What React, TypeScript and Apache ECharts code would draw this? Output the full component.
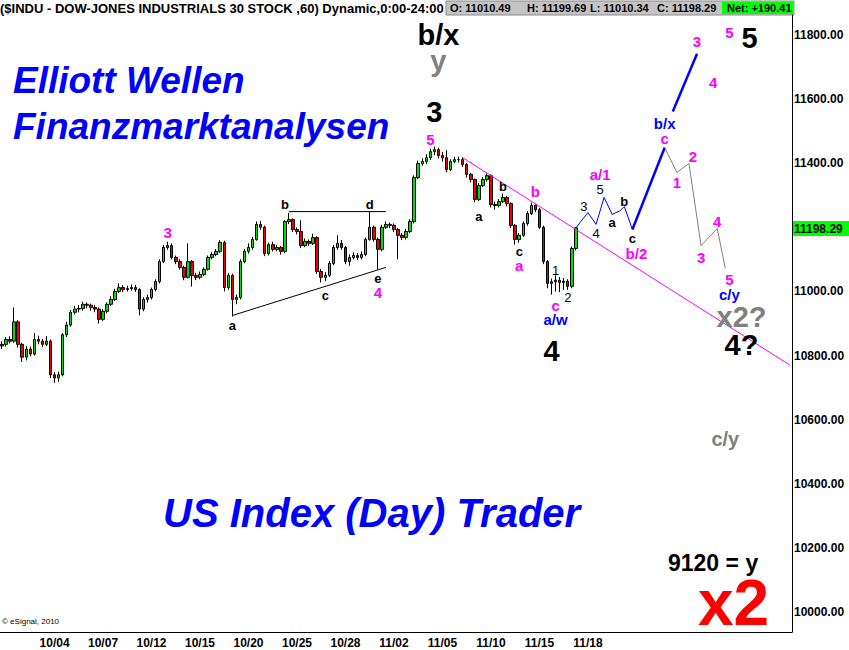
import React, { useEffect, useRef } from "react";
import * as echarts from "echarts";

// ---------- DATA ----------
const tradingDays = [
  "09/29", "09/30", "10/01", "10/04", "10/05", "10/06", "10/07", "10/08", "10/11", "10/12",
  "10/13", "10/14", "10/15", "10/18", "10/19", "10/20", "10/21", "10/22", "10/25", "10/26",
  "10/27", "10/28", "10/29", "11/01", "11/02", "11/03", "11/04", "11/05", "11/08", "11/09",
  "11/10", "11/11", "11/12", "11/15", "11/16", "11/17", "11/18", "11/19", "11/22", "11/23",
  "11/24", "11/26", "11/29", "11/30", "12/01", "12/02", "12/03", "12/06", "12/07",
];
const barsPerDay = 4;
const tickDays = ["10/04", "10/07", "10/12", "10/15", "10/20", "10/25", "10/28", "11/02", "11/05", "11/10", "11/15", "11/18"];
// 11200.00 is hidden behind the last-price tag in the reference
const yTicks = [10000, 10200, 10400, 10600, 10800, 11000, 11400, 11600, 11800];

const firstOpen = 10830;
const closes = [
  10835, 10850, 10845, 10905, 10835, 10795, 10820, 10805, 10850, 10845,
  10835, 10845, 10740, 10730, 10740, 10865, 10895, 10935, 10945, 10947,
  10960, 10957, 10950, 10945, 10913, 10938, 10960, 10975, 11000, 11012,
  11006, 11009, 11012, 11006, 10945, 10975, 10981, 11006, 11031, 11093,
  11137, 11143, 11106, 11093, 11075, 11044, 11093, 11050, 11044, 11053,
  11069, 11106, 11115, 11125, 11153, 11012, 11050, 10975, 10981, 11093,
  11125, 11137, 11162, 11209, 11200, 11118, 11146, 11131, 11137, 11125,
  11218, 11224, 11193, 11187, 11143, 11156, 11150, 11168, 11062, 11044,
  11050, 11087, 11137, 11150, 11137, 11093, 11106, 11112, 11106, 11115,
  11162, 11200, 11162, 11131, 11200, 11209, 11206, 11193, 11175, 11168,
  11187, 11218, 11355, 11399, 11405, 11417, 11436, 11442, 11424, 11417,
  11380, 11405, 11411, 11411, 11396, 11365, 11349, 11287, 11330, 11349,
  11361, 11271, 11268, 11280, 11293, 11274, 11206, 11162, 11175, 11212,
  11243, 11268, 11255, 11200, 11093, 11025, 11030, 11035, 11028, 11032,
  11016, 11134, 11198.29,
];
const highs = [
  10845, 10858, 10860, 10950, 10910, 10840, 10830, 10828, 10870, 10862,
  10852, 10860, 10850, 10748, 10750, 10870, 10905, 10942, 10955, 10958,
  10968, 10966, 10962, 10958, 10950, 10945, 10966, 10985, 11008, 11025,
  11020, 11018, 11022, 11020, 11010, 10982, 10990, 11012, 11038, 11100,
  11145, 11155, 11150, 11112, 11100, 11080, 11150, 11098, 11058, 11062,
  11075, 11112, 11122, 11132, 11160, 11158, 11058, 11055, 10990, 11100,
  11132, 11150, 11170, 11218, 11220, 11205, 11152, 11155, 11145, 11142,
  11222, 11245, 11228, 11200, 11222, 11165, 11162, 11180, 11172, 11070,
  11060, 11095, 11145, 11175, 11160, 11142, 11115, 11122, 11120, 11125,
  11168, 11248, 11205, 11168, 11208, 11218, 11215, 11212, 11198, 11182,
  11195, 11225, 11362, 11408, 11415, 11428, 11445, 11452, 11448, 11435,
  11440, 11412, 11420, 11420, 11418, 11400, 11370, 11352, 11338, 11356,
  11368, 11365, 11280, 11288, 11305, 11298, 11278, 11210, 11182, 11218,
  11250, 11277, 11272, 11260, 11205, 11098, 11040, 11050, 11045, 11042,
  11038, 11140, 11199.69,
];
const lows = [
  10820, 10828, 10838, 10840, 10825, 10780, 10785, 10798, 10800, 10835,
  10826, 10830, 10730, 10715, 10718, 10735, 10858, 10890, 10928, 10935,
  10940, 10948, 10940, 10935, 10900, 10908, 10932, 10955, 10970, 10995,
  10998, 11000, 11002, 10998, 10925, 10938, 10965, 10975, 11000, 11025,
  11088, 11130, 11100, 11085, 11068, 11035, 11040, 11015, 11035, 11038,
  11048, 11065, 11100, 11110, 11120, 11000, 11005, 10922, 10960, 10975,
  11088, 11118, 11130, 11158, 11192, 11110, 11112, 11125, 11125, 11115,
  11120, 11210, 11185, 11178, 11135, 11138, 11142, 11145, 11055, 11028,
  11032, 11045, 11082, 11130, 11130, 11085, 11080, 11100, 11098, 11100,
  11110, 11158, 11155, 11068, 11125, 11195, 11198, 11185, 11100, 11160,
  11162, 11182, 11212, 11350, 11392, 11398, 11410, 11425, 11415, 11405,
  11372, 11375, 11400, 11402, 11388, 11355, 11340, 11278, 11282, 11325,
  11342, 11262, 11255, 11262, 11275, 11265, 11198, 11146, 11152, 11170,
  11205, 11238, 11248, 11195, 11085, 11010, 10990, 11000, 10998, 11005,
  11005, 11010, 11128,
];

// annotation lines: [bar index, price]
const triangleTop = [[70.6, 11249], [94.8, 11249]];
const triangleBottom = [[57.0, 10925], [94.8, 11075]];
const pinkTrend = [[114.3, 11417], [195.1, 10770]];
const blueSmall = [[142, 11198], [144.7, 11246], [146.9, 11209], [149.1, 11293], [151.1, 11240], [152.8, 11252], [154.3, 11265], [155.8, 11193]];
const blueBig1 = [[155.8, 11193], [163.7, 11449]];
const blueBig2 = [[166.2, 11561], [171.8, 11741]];
const greyPath = [[163.7, 11449], [166.7, 11371], [169.9, 11399], [173.1, 11143], [176.5, 11196], [179.3, 11072]];

// wave labels: [bar index, price, text, style]
const waveLabels: [number, number, string, string][] = [
  [41.0, 11184, "3", "pink"],
  [106.4, 11473, "5", "pink"],
  [92.6, 10997, "4", "pink"],
  [57.3, 10894, "a", "black"],
  [70.4, 11271, "b", "black"],
  [79.7, 10988, "c", "black"],
  [90.6, 11271, "d", "black"],
  [92.8, 11040, "e", "black"],
  [118.3, 11234, "a", "black"],
  [124.2, 11327, "b", "black"],
  [127.6, 11124, "c", "black"],
  [127.6, 11080, "a", "pink"],
  [131.8, 11312, "b", "pink"],
  [136.5, 10956, "c", "pink"],
  [136.5, 10913, "a/w", "blue"],
  [136.8, 11065, "1", "thin"],
  [140.2, 10981, "2", "thin"],
  [143.7, 11265, "3", "thin"],
  [146.7, 11181, "4", "thin"],
  [148.4, 11318, "5", "thin"],
  [151.1, 11215, "a", "black"],
  [153.8, 11280, "b", "black"],
  [156.0, 11165, "c", "black"],
  [147.9, 11364, "a/1", "pink"],
  [156.5, 11118, "b/2", "pink"],
  [164.2, 11523, "b/x", "blue"],
  [164.0, 11477, "c", "pink"],
  [172.1, 11779, "3", "pink"],
  [176.3, 11651, "4", "pink"],
  [180.0, 11807, "5", "pink"],
  [166.7, 11340, "1", "pink"],
  [170.6, 11421, "2", "pink"],
  [173.1, 11106, "3", "pink"],
  [176.5, 11218, "4", "pink"],
  [179.7, 11037, "5", "pink"],
  [179.7, 10991, "c/y", "blue"],
  [107.4, 11558, "3", "big"],
  [108.1, 11720, "y", "bigGrey"],
  [108.1, 11800, "b/x", "big"],
  [135.5, 10813, "4", "big"],
  [184.7, 11791, "5", "big"],
  [182.5, 10921, "x2?", "bigGrey"],
  [182.7, 10833, "4?", "big"],
  [179.0, 10539, "c/y", "midGrey"],
];

const headerText = "($INDU - DOW-JONES INDUSTRIALS 30 STOCK ,60) Dynamic,0:00-24:00";
const quoteFields = ["O: 11010.49", "H: 11199.69", "L: 11010.34", "C: 11198.29"];
const netField = "Net: +190.41";
const lastPrice = 11198.29;

// ---------- BUILD ----------
const FONT = '"Liberation Sans", Arial, sans-serif';
const categories: string[] = [];
tradingDays.forEach((d) => {
  for (let h = 0; h < barsPerDay; h++) categories.push(d + "#" + h);
});

const candleData = closes.map((c, i) => {
  const o = i === 0 ? firstOpen : closes[i - 1];
  return [o, c, lows[i], highs[i]];
});

const labelStyles: Record<string, any> = {
  pink: { color: "#ff00ff", fontSize: 15, fontWeight: "bold" },
  black: { color: "#000000", fontSize: 13, fontWeight: "bold" },
  thin: { color: "#000000", fontSize: 13, fontWeight: "normal" },
  blue: { color: "#0000ff", fontSize: 15, fontWeight: "bold" },
  big: { color: "#000000", fontSize: 29, fontWeight: "bold" },
  bigGrey: { color: "#808080", fontSize: 29, fontWeight: "bold" },
  midGrey: { color: "#808080", fontSize: 20, fontWeight: "bold" },
};

function lineSeries(data: number[][], color: string, width: number) {
  return {
    type: "line",
    data,
    symbol: "none",
    silent: true,
    clip: false,
    z: 5,
    lineStyle: { color, width },
  };
}

const mid = { textVerticalAlign: "middle", verticalAlign: "middle" };

export default function App() {
  const ref = useRef<HTMLDivElement>(null);
  useEffect(() => {
    const chart = echarts.init(ref.current!, null, { renderer: "svg" });
    const option: any = {
      animation: false,
      backgroundColor: "#ffffff",
      grid: { left: 0, right: 57, top: 15, bottom: 18 },
      xAxis: {
        type: "category",
        data: categories,
        boundaryGap: true,
        axisLine: { show: true, lineStyle: { color: "#000", width: 1 } },
        axisTick: { show: false },
        splitLine: { show: false },
        axisLabel: {
          interval: (idx: number, name: string) => {
            const [d, h] = name.split("#");
            return h === "1" && tickDays.includes(d);
          },
          formatter: (name: string) => name.split("#")[0],
          color: "#000",
          fontFamily: FONT,
          fontWeight: "bold",
          fontSize: 12,
          margin: 5,
        },
      },
      yAxis: {
        type: "value",
        position: "right",
        min: 9938,
        max: 11862,
        scale: true,
        axisLine: { show: true, lineStyle: { color: "#000", width: 1 } },
        axisTick: { show: false },
        splitLine: { show: false },
        axisLabel: {
          customValues: yTicks,
          formatter: (v: number) => v.toFixed(2),
          color: "#000",
          fontFamily: FONT,
          fontWeight: "bold",
          fontSize: 12,
          margin: 2,
        },
      },
      series: [
        {
          type: "candlestick",
          data: candleData,
          barWidth: 3,
          z: 3,
          itemStyle: {
            color: "#00dd00",
            color0: "#ee0000",
            borderColor: "#000000",
            borderColor0: "#000000",
            borderWidth: 1,
          },
        },
        lineSeries(triangleTop, "#000000", 1),
        lineSeries(triangleBottom, "#000000", 1),
        lineSeries(pinkTrend, "#ff00ff", 1),
        lineSeries(blueSmall, "#0000ff", 1),
        lineSeries(blueBig1, "#0000ff", 2.5),
        lineSeries(blueBig2, "#0000ff", 2.5),
        lineSeries(greyPath, "#808080", 1),
        {
          type: "scatter",
          symbolSize: 1,
          silent: true,
          clip: false,
          z: 10,
          itemStyle: { color: "rgba(0,0,0,0)", opacity: 1 },
          data: waveLabels.map(([i, v, t, s]) => ({
            value: [i, v],
            label: {
              show: true,
              position: "inside",
              formatter: t,
              fontFamily: FONT,
              opacity: 1,
              ...labelStyles[s],
            },
          })),
        },
      ],
      graphic: [
        {
          type: "text",
          x: 0,
          y: 8,
          style: { text: headerText, font: `bold 13px ${FONT}`, fill: "#000", ...mid },
        },
        {
          type: "rect",
          shape: { x: 446, y: 1, width: 348, height: 14 },
          style: { fill: "#c4c4c4", stroke: "#8a8a8a", lineWidth: 1 },
        },
        {
          type: "rect",
          shape: { x: 722, y: 2, width: 71, height: 12 },
          style: { fill: "#00ff00" },
        },
        ...quoteFields.map((t, k) => ({
          type: "text",
          x: [450, 527, 590, 657][k],
          y: 8,
          style: { text: t, font: `bold 11px ${FONT}`, fill: "#000", ...mid },
        })),
        {
          type: "text",
          x: 727,
          y: 8,
          style: { text: netField, font: `bold 11px ${FONT}`, fill: "#000", ...mid },
        },
        {
          type: "rect",
          z: 50,
          shape: { x: 793, y: 221, width: 56, height: 15 },
          style: { fill: "#00ff00" },
        },
        {
          type: "text",
          z: 51,
          x: 794,
          y: 229,
          style: { text: lastPrice.toFixed(2), font: `bold 12px ${FONT}`, fill: "#000", ...mid },
        },
        {
          type: "text",
          x: 13,
          y: 80,
          style: { text: "Elliott Wellen", font: `italic bold 37px ${FONT}`, fill: "#0000ff", ...mid },
        },
        {
          type: "text",
          x: 13,
          y: 126,
          style: { text: "Finanzmarktanalysen", font: `italic bold 37px ${FONT}`, fill: "#0000ff", ...mid },
        },
        {
          type: "text",
          x: 163,
          y: 513,
          style: { text: "US Index (Day) Trader", font: `italic bold 40px ${FONT}`, fill: "#0000ff", ...mid },
        },
        {
          type: "text",
          x: 668,
          y: 563,
          style: { text: "9120 = y", font: `bold 23px ${FONT}`, fill: "#000", ...mid },
        },
        {
          type: "text",
          x: 698,
          y: 603,
          style: { text: "x2", font: `bold 64px ${FONT}`, fill: "#ff0000", ...mid },
        },
        {
          type: "text",
          x: 2,
          y: 621,
          style: { text: "© eSignal, 2010", font: `8px ${FONT}`, fill: "#000", ...mid },
        },
      ],
    };
    chart.setOption(option);
    return () => chart.dispose();
  }, []);
  return (
    <div
      ref={ref}
      style={{ position: "fixed", left: 0, top: 0, width: 849, height: 650, background: "#fff" }}
    />
  );
}
